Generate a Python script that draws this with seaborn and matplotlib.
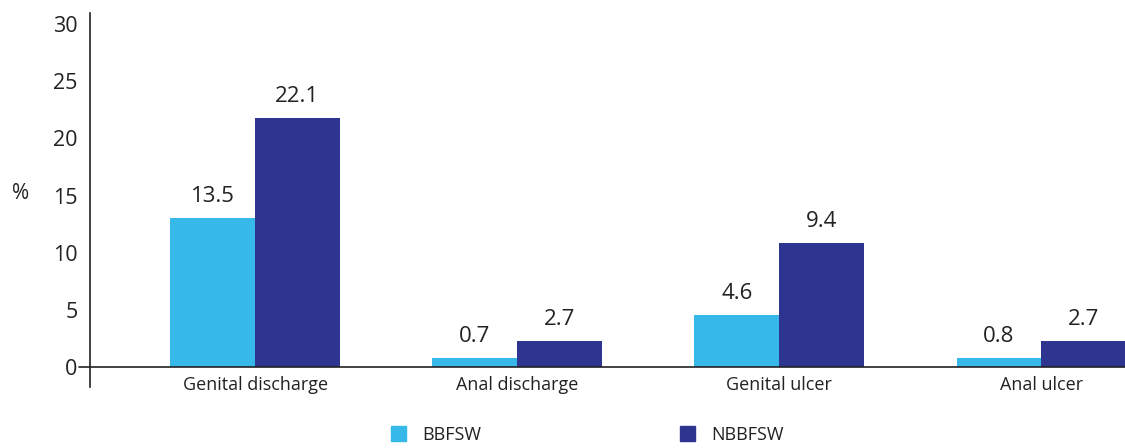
import pandas as pd
import matplotlib.pyplot as plt
import seaborn as sns
from matplotlib.patches import Patch

categories = ['Genital discharge', 'Anal discharge', 'Genital ulcer', 'Anal ulcer']
groups = ['BBFSW', 'NBBFSW']
# bar heights as drawn in the original, and the printed value labels
bbfsw = [13.0, 0.8, 4.55, 0.8]
nbbfsw = [21.8, 2.3, 10.85, 2.3]
bbfsw_labels = ['13.5', '0.7', '4.6', '0.8']
nbbfsw_labels = ['22.1', '2.7', '9.4', '2.7']
colors = ['#36B8E8', '#2D3590']

df = pd.DataFrame({
    'condition': categories * 2,
    'group': [groups[0]] * 4 + [groups[1]] * 4,
    'value': bbfsw + nbbfsw,
})

sns.set_style('white')
plt.rcParams['font.family'] = ['Open Sans', 'DejaVu Sans']

fig = plt.figure(figsize=(11.25, 4.48), dpi=100)
ax = fig.add_axes([0.08, 0.136, 0.92, 0.835])

sns.barplot(data=df, x='condition', y='value', hue='group', palette=colors,
            saturation=1, width=0.646, linewidth=0, ax=ax, legend=False)

for cont, labs in zip(ax.containers, [bbfsw_labels, nbbfsw_labels]):
    ax.bar_label(cont, labels=labs, padding=8, fontsize=16, color='#222222')

ax.set_ylim(-1.75, 30.97)
ax.set_xlim(-0.63, 3.32)
ax.set_yticks([0, 5, 10, 15, 20, 25, 30])
ax.tick_params(axis='y', length=0, pad=9, labelsize=15.5, labelcolor='#222222')
ax.tick_params(axis='x', length=0, pad=-8, labelsize=13, labelcolor='#222222')
ax.set_xlabel('')
ax.set_ylabel('')

sns.despine(ax=ax, bottom=True, right=True, top=True)
ax.spines['left'].set_color('#222222')
ax.spines['left'].set_linewidth(1.2)
ax.axhline(0, xmin=-0.011, xmax=1, color='#222222', lw=1.2, clip_on=False)

fig.text(0.011, 0.568, '%', fontsize=15, color='#222222', va='center')

handles = [Patch(color=c, label=g) for c, g in zip(colors, groups)]
leg = fig.legend(handles=handles, loc='center', bbox_to_anchor=(0.522, 0.03), ncol=2,
                 frameon=False, fontsize=13, handlelength=0.85, handleheight=0.85,
                 handletextpad=0.9, columnspacing=11)
for t in leg.get_texts():
    t.set_color('#222222')

fig.savefig('out.png', dpi=100)
